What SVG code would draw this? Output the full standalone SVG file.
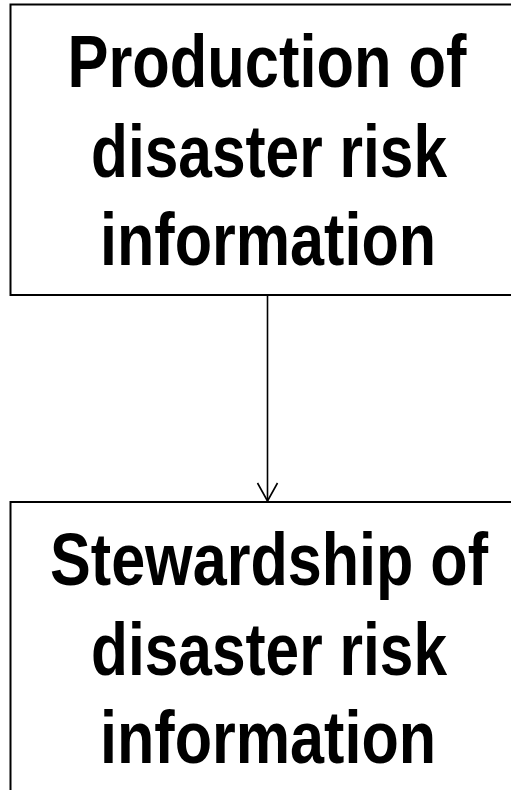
<svg xmlns="http://www.w3.org/2000/svg" width="511" height="790" viewBox="0 0 511 790">
<style>
.box{fill:#fff;stroke:#000;stroke-width:2}
.t{font-family:"Liberation Sans",Arial,sans-serif;font-weight:bold;font-size:74px;fill:#000;text-anchor:middle}
.c{fill:none;stroke:#000;stroke-width:1.6}
</style>
<rect width="511" height="790" fill="#fff"/>
<g id="node-production">
<rect class="box" x="10.5" y="4.5" width="514" height="290.5"/>
<text class="t" transform="translate(267 87) scale(0.82 1)" x="0" y="0" textLength="486.6" lengthAdjust="spacingAndGlyphs">Production of</text>
<text class="t" transform="translate(269 177) scale(0.82 1)" x="0" y="0" textLength="434.1" lengthAdjust="spacingAndGlyphs">disaster risk</text>
<text class="t" transform="translate(268 265) scale(0.82 1)" x="0" y="0" textLength="409.8" lengthAdjust="spacingAndGlyphs">information</text>
</g>
<g id="node-stewardship">
<rect class="box" x="10.5" y="502" width="514" height="300"/>
<text class="t" transform="translate(269 584.5) scale(0.82 1)" x="0" y="0" textLength="534.1" lengthAdjust="spacingAndGlyphs">Stewardship of</text>
<text class="t" transform="translate(269 674.5) scale(0.82 1)" x="0" y="0" textLength="434.1" lengthAdjust="spacingAndGlyphs">disaster risk</text>
<text class="t" transform="translate(268 762.5) scale(0.82 1)" x="0" y="0" textLength="409.8" lengthAdjust="spacingAndGlyphs">information</text>
</g>
<g id="connectors">
<line class="c" x1="267.5" y1="295" x2="267.5" y2="501"/>
<polyline class="c" points="257.5,483 267.5,501 277.5,483"/>
</g>
</svg>
